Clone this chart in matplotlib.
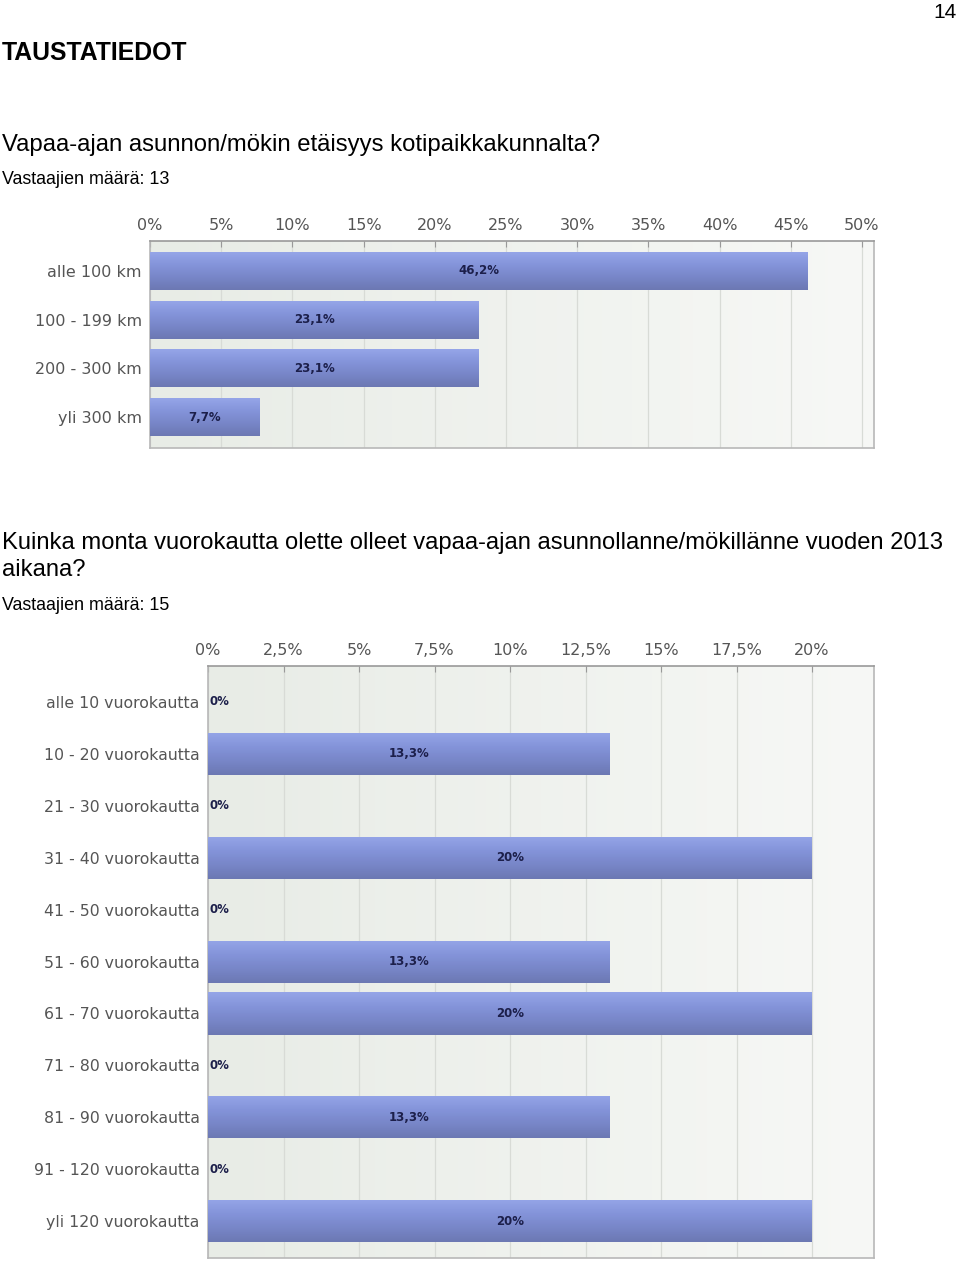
import matplotlib
matplotlib.use("Agg")
import matplotlib.pyplot as plt
import numpy as np
from matplotlib.colors import LinearSegmentedColormap

# ---- data ----
cat1 = ["alle 100 km", "100 - 199 km", "200 - 300 km", "yli 300 km"]
val1 = [46.2, 23.1, 23.1, 7.7]
lab1 = ["46,2%", "23,1%", "23,1%", "7,7%"]
ticks1 = [0, 5, 10, 15, 20, 25, 30, 35, 40, 45, 50]
ticklab1 = ["0%", "5%", "10%", "15%", "20%", "25%", "30%", "35%", "40%", "45%", "50%"]

cat2 = ["alle 10 vuorokautta", "10 - 20 vuorokautta", "21 - 30 vuorokautta",
        "31 - 40 vuorokautta", "41 - 50 vuorokautta", "51 - 60 vuorokautta",
        "61 - 70 vuorokautta", "71 - 80 vuorokautta", "81 - 90 vuorokautta",
        "91 - 120 vuorokautta", "yli 120 vuorokautta"]
val2 = [0, 13.3, 0, 20, 0, 13.3, 20, 0, 13.3, 0, 20]
lab2 = ["0%", "13,3%", "0%", "20%", "0%", "13,3%", "20%", "0%", "13,3%", "0%", "20%"]
ticks2 = [0, 2.5, 5, 7.5, 10, 12.5, 15, 17.5, 20]
ticklab2 = ["0%", "2,5%", "5%", "7,5%", "10%", "12,5%", "15%", "17,5%", "20%"]

W, H = 960, 1261
fig = plt.figure(figsize=(W / 100, H / 100), dpi=100)
fig.patch.set_facecolor("white")

def px_axes(l, t, r, b):
    return fig.add_axes([l / W, 1 - b / H, (r - l) / W, (b - t) / H])

bar_cmap = LinearSegmentedColormap.from_list(
    "bar", ["#95a5e8", "#8494da", "#7886c8", "#6c78b3"])
bg_cmap = LinearSegmentedColormap.from_list("bg", ["#e8ece6", "#f7f8f6"])

def draw_chart(ax, cats, vals, labs, ticks, ticklabs, xmax, ylim, bh, catsize):
    n = len(cats)
    y = np.arange(n)
    ax.set_xlim(0, xmax)
    ax.set_ylim(*ylim)
    grad = np.linspace(0, 1, 256).reshape(1, -1)
    ax.imshow(grad, cmap=bg_cmap, aspect="auto", extent=(0, xmax, ylim[0], ylim[1]),
              zorder=0, origin="upper")
    for t in ticks:
        ax.axvline(t, color="#d8dbd6", lw=0.9, zorder=1)
    bars = ax.barh(y, vals, height=bh, color="none", edgecolor="none", zorder=2)
    vg = np.linspace(0, 1, 64).reshape(-1, 1)
    for b, v in zip(bars, vals):
        if v <= 0:
            continue
        x0, y0 = b.get_x(), b.get_y()
        w, h = b.get_width(), b.get_height()
        im = ax.imshow(vg, cmap=bar_cmap, aspect="auto",
                       extent=(x0, x0 + w, y0 + h, y0), origin="upper", zorder=3)
        im.set_clip_path(b)
    for yi, v, lb in zip(y, vals, labs):
        if v > 0:
            ax.text(v / 2, yi, lb, ha="center", va="center", fontsize=8.5,
                    fontweight="bold", color="#1c1f4a", family="DejaVu Sans", zorder=4)
        else:
            ax.text(xmax * 0.003, yi, lb, ha="left", va="center", fontsize=8.5,
                    fontweight="bold", color="#1c1f4a", family="DejaVu Sans", zorder=4)
    ax.set_yticks(y)
    ax.set_yticklabels(cats, fontsize=catsize, color="#555555", family="DejaVu Sans")
    ax.set_xticks(ticks)
    ax.set_xticklabels(ticklabs, fontsize=11.5, color="#555555", family="DejaVu Sans")
    ax.xaxis.tick_top()
    ax.tick_params(axis="x", length=4, color="#999999", direction="in", pad=6)
    ax.tick_params(axis="y", length=0, pad=6)
    for s in ax.spines.values():
        s.set_color("#b8b8b8")
        s.set_linewidth(1.2)
    ax.spines["top"].set_color("#999999")

# chart 1
ax1 = px_axes(150, 241, 874, 448)
draw_chart(ax1, cat1, val1, lab1, ticks1, ticklab1,
           50 * 724 / 712, (3.636, -0.615), 0.78, 11.5)

# chart 2
ax2 = px_axes(208, 666, 874, 1258)
draw_chart(ax2, cat2, val2, lab2, ticks2, ticklab2,
           20 * 666 / 604, (10.71, -0.693), 0.81, 11.3)

# texts
ff = "Liberation Sans"
fig.text(957 / W, 1 - 12 / H, "14", ha="right", va="center", fontsize=15, family=ff)
fig.text(2 / W, 1 - 53 / H, "TAUSTATIEDOT", ha="left", va="center", fontsize=17.8,
         fontweight="bold", family=ff)
fig.text(2 / W, 1 - 145 / H, "Vapaa-ajan asunnon/mökin etäisyys kotipaikkakunnalta?",
         ha="left", va="center", fontsize=17.2, family=ff)
fig.text(2 / W, 1 - 180 / H, "Vastaajien määrä: 13", ha="left", va="center",
         fontsize=12.9, family=ff)
fig.text(2 / W, 1 - 543 / H,
         "Kuinka monta vuorokautta olette olleet vapaa-ajan asunnollanne/mökillänne vuoden 2013",
         ha="left", va="center", fontsize=17.1, family=ff)
fig.text(2 / W, 1 - 570 / H, "aikana?", ha="left", va="center", fontsize=17.1, family=ff)
fig.text(2 / W, 1 - 605 / H, "Vastaajien määrä: 15", ha="left", va="center",
         fontsize=12.9, family=ff)

fig.savefig("out.png", dpi=100, facecolor="white")
